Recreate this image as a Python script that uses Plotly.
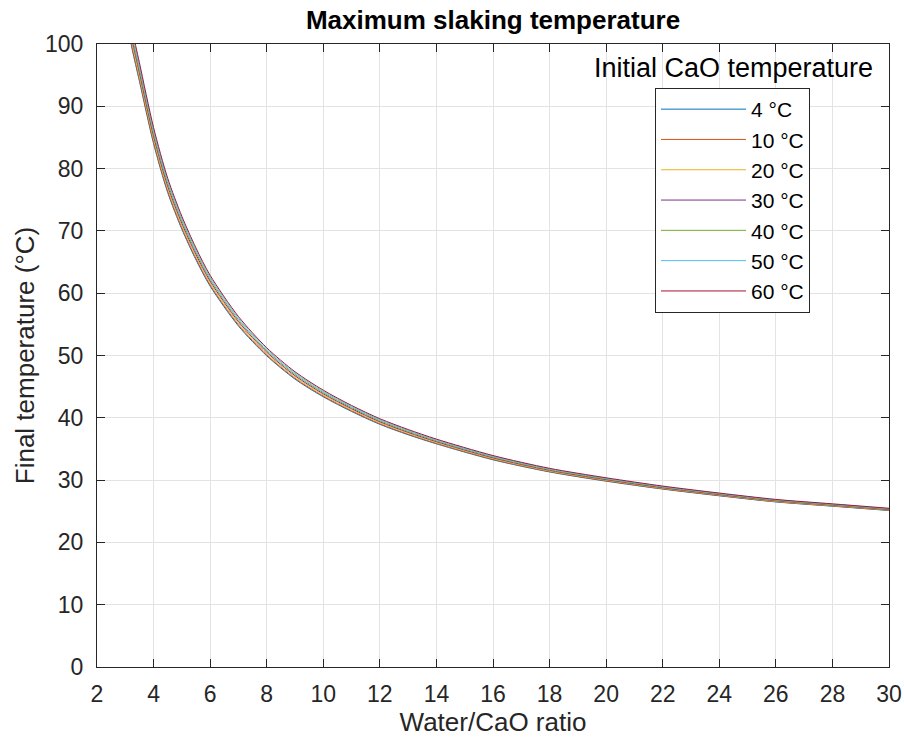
import plotly.graph_objects as go

# Water/CaO mass ratio (x)
ratio = [3.15, 3.25, 3.5, 4, 4.5, 5, 5.5, 6, 7, 8, 9, 10, 11, 12, 13, 14,
         16, 18, 20, 22, 24, 26, 28, 30]

# Final temperature (°C) for each initial CaO temperature
t_4 = [101.35, 99.00, 94.02, 84.01, 76.15, 70.26, 65.35, 61.13, 54.74, 49.96,
       46.21, 43.37, 41.02, 38.95, 37.28, 35.82, 33.26, 31.31, 29.83, 28.56,
       27.48, 26.50, 25.81, 25.12]
t_10 = [101.70, 99.35, 94.33, 84.29, 76.40, 70.49, 65.55, 61.32, 54.91, 50.09,
        46.34, 43.48, 41.13, 39.05, 37.37, 35.90, 33.34, 31.37, 29.89, 28.61,
        27.53, 26.54, 25.85, 25.16]
t_20 = [102.29, 99.92, 94.86, 84.75, 76.81, 70.86, 65.89, 61.63, 55.18, 50.32,
        46.55, 43.67, 41.30, 39.21, 37.52, 36.04, 33.46, 31.47, 29.99, 28.70,
        27.61, 26.61, 25.92, 25.22]
t_30 = [102.88, 100.49, 95.39, 85.21, 77.22, 71.23, 66.23, 61.94, 55.45, 50.55,
        46.76, 43.86, 41.47, 39.37, 37.67, 36.17, 33.58, 31.58, 30.08, 28.78,
        27.68, 26.69, 25.99, 25.29]
t_40 = [103.47, 101.06, 95.92, 85.67, 77.63, 71.60, 66.57, 62.25, 55.72, 50.78,
        46.97, 44.05, 41.64, 39.53, 37.82, 36.31, 33.70, 31.68, 30.18, 28.87,
        27.76, 26.76, 26.05, 25.35]
t_50 = [104.06, 101.63, 96.45, 86.13, 78.04, 71.97, 66.91, 62.56, 55.99, 51.01,
        47.18, 44.24, 41.81, 39.69, 37.97, 36.44, 33.82, 31.79, 30.27, 28.96,
        27.84, 26.83, 26.12, 25.41]
t_60 = [104.65, 102.20, 96.98, 86.59, 78.45, 72.34, 67.25, 62.87, 56.26, 51.24,
        47.39, 44.43, 41.98, 39.85, 38.12, 36.58, 33.94, 31.89, 30.37, 29.04,
        27.92, 26.90, 26.19, 25.48]

series_names = ["4 °C", "10 °C", "20 °C", "30 °C", "40 °C", "50 °C", "60 °C"]
series_values = [t_4, t_10, t_20, t_30, t_40, t_50, t_60]
colors = ["#0072BD", "#D95319", "#EDB120", "#7E2F8E", "#77AC30", "#4DBEEE", "#A2142F"]

x_ticks = list(range(2, 31, 2))
y_ticks = list(range(0, 101, 10))

FONT = "Liberation Sans, Arial, Helvetica, sans-serif"
TXT = "#262626"

fig = go.Figure()
for i, (name, vals, col) in enumerate(zip(series_names, series_values, colors)):
    fig.add_trace(go.Scatter(
        x=ratio, y=vals, mode="lines", name=name,
        line=dict(color=col, width=1, shape="spline", smoothing=0.8),
        legendgroup=f"g{i}",
    ))

axis_common = dict(
    showline=True, linecolor=TXT, linewidth=1, mirror="ticks",
    ticks="inside", ticklen=8, tickcolor=TXT, tickwidth=1,
    showgrid=True, gridcolor="#e3e3e3", gridwidth=1, zeroline=False,
    tickfont=dict(family=FONT, size=23, color=TXT), automargin=False,
)

fig.update_layout(
    width=904, height=743,
    margin=dict(l=97, r=15, t=44, b=76),
    paper_bgcolor="white", plot_bgcolor="white",
    title=dict(text="<b>Maximum slaking temperature</b>", x=0.5454, xanchor="center",
               y=1 - 20 / 743, yanchor="middle",
               font=dict(family=FONT, size=26, color="black")),
    xaxis=dict(range=[2, 30], tickvals=x_ticks, ticktext=[str(v) for v in x_ticks],
               ticklabelstandoff=6,
               title=dict(text="Water/CaO ratio", font=dict(family=FONT, size=26, color=TXT),
                          standoff=0),
               **axis_common),
    yaxis=dict(range=[0, 100], tickvals=y_ticks, ticktext=[str(v) for v in y_ticks],
               ticklabelstandoff=8,
               title=dict(text="Final temperature (°C)", font=dict(family=FONT, size=26, color=TXT),
                          standoff=2),
               **axis_common),
    showlegend=True,
    legend=dict(x=(655 - 97) / 792, y=(667 - 88) / 623, xanchor="left", yanchor="top",
                bgcolor="white", bordercolor=TXT, borderwidth=1,
                font=dict(family=FONT, size=21, color="black"),
                tracegroupgap=0, itemwidth=85),
    annotations=[dict(text="Initial CaO temperature", xref="paper", yref="paper",
                      x=(733 - 97) / 792, y=(667 - 68) / 623, xanchor="center", yanchor="middle",
                      showarrow=False, font=dict(family=FONT, size=27, color="black"))],
)

fig.write_html("out.html")
